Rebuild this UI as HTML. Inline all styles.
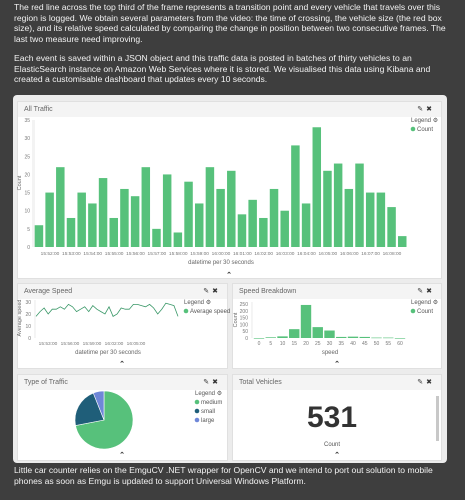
<!DOCTYPE html>
<html><head><meta charset="utf-8"><style>
body{margin:0;width:465px;height:500px;background:#3e3e3e;font-family:"Liberation Sans",sans-serif;overflow:hidden;position:relative}
.t{position:absolute;left:14px;color:#f2f2f2;font-size:8.6px;line-height:10.6px;width:440px}
#dash{position:absolute;left:13px;top:95px;width:434px;height:368px;background:#ececec;border-radius:4px}
.panel{position:absolute;background:#fff;border:1px solid #e0e0e0}
.hdr{height:15px;background:#f4f4f4;font-size:7px;color:#666;line-height:15px;padding-left:6px;position:relative}
.ic{position:absolute;right:6px;top:0;font-size:7px;color:#333;letter-spacing:3px}
svg text{font-family:"Liberation Sans",sans-serif}
</style></head><body>
<div class="t" style="top:2px">The red line across the top third of the frame represents a transition point and every vehicle that travels over this region is logged. We obtain several parameters from the video: the time of crossing, the vehicle size (the red box size), and its relative speed calculated by comparing the change in position between two consecutive frames. The last two measure need improving.</div>
<div class="t" style="top:53px">Each event is saved within a JSON object and this traffic data is posted in batches of thirty vehicles to an ElasticSearch instance on Amazon Web Services where it is stored. We visualised this data using Kibana and created a customisable dashboard that updates every 10 seconds.</div>
<div class="t" style="top:465px">Little car counter relies on the EmguCV .NET wrapper for OpenCV and we intend to port out solution to mobile phones as soon as Emgu is updated to support Universal Windows Platform.</div>

<div id="dash">
 <div class="panel" style="left:4px;top:6px;width:423px;height:176px">
  <div class="hdr">All Traffic<span class="ic">✎✖</span></div>
 </div>
 <div class="panel" style="left:4px;top:188px;width:209px;height:84px">
  <div class="hdr">Average Speed<span class="ic">✎✖</span></div>
 </div>
 <div class="panel" style="left:219px;top:188px;width:208px;height:84px">
  <div class="hdr">Speed Breakdown<span class="ic">✎✖</span></div>
 </div>
 <div class="panel" style="left:4px;top:279px;width:209px;height:85px">
  <div class="hdr">Type of Traffic<span class="ic">✎✖</span></div>
 </div>
 <div class="panel" style="left:219px;top:279px;width:208px;height:85px">
  <div class="hdr">Total Vehicles<span class="ic">✎✖</span></div>
 </div>
</div>
<svg id="s" width="465" height="500" style="position:absolute;left:0;top:0"></svg>
<script>
const trafficCounts=[6,15,22,8,15,12,19,8,16,14,22,5,20,4,18,12,22,16,21,9,13,8,16,10,28,12,33,21,23,16,23,15,15,11,3];
const trafficTicks=["15:52:00","15:53:00","15:54:00","15:55:00","15:56:00","15:57:00","15:58:00","15:59:00","16:00:00","16:01:00","16:02:00","16:03:00","16:04:00","16:05:00","16:06:00","16:07:00","16:08:00"];
const trafficYTicks=[0,5,10,15,20,25,30,35];
const avgSpeed=[18,22,25,20,24,24,26,24,28,26,22,24,26,22,27,24,22,20,26,18,20,25,24,24,28,28,27,26,28,25,20,24,29,28,27,18];
const avgTicks=["15:53:00","15:56:00","15:59:00","16:02:00","16:05:00"];
const avgYTicks=[0,10,20,30];
const speedBins=[0,5,10,15,20,25,30,35,40,45,50,55,60];
const speedCounts=[0,5,12,65,243,80,55,8,10,8,3,3,0];
const speedYTicks=[0,50,100,150,200,250];
const typeLabels=["medium","small","large"];
const typeCounts=[382,117,32];
const typeColors=["#57c17b","#1f5e79","#6f87d8"];
const totalVehicles=531;

const S=document.getElementById('s');const NS="http://www.w3.org/2000/svg";
function mk(tag,a,txt){const e=document.createElementNS(NS,tag);for(const k in a)e.setAttribute(k,a[k]);if(txt!==undefined)e.textContent=txt;S.appendChild(e);return e;}
const G="#57c17b",TC="#777";
function legend(x,y,items){
 let e=mk('text',{x:x,y:y,'font-size':6,fill:'#555'},'Legend ⚙');
 
 items.forEach((it,i)=>{
  let c=mk('circle',{cx:x+2,cy:y+7+i*9,r:2.3,fill:it[1]});
  
  let t=mk('text',{x:x+6,y:y+9.2+i*9,'font-size':6,fill:'#555'},it[0]);
  
 });
}
function chev(x,y){let e=mk('text',{x:x,y:y,'font-size':7,'text-anchor':'middle',fill:'#333','font-weight':'bold'},'⌃');}

// All traffic
(function(){
 const x0=34,x1=408,y0=247,y1=120,max=35;
 const bw=(x1-x0)/trafficCounts.length;
 const ys=v=>y0-(v/max)*(y0-y1);
 mk('rect',{x:x0-2,y:y1,width:3,height:y0-y1,fill:'#f3f3f3'});
 trafficYTicks.forEach(v=>{let t=mk('text',{x:x0-4,y:ys(v)+2,'font-size':5,fill:TC,'text-anchor':'end'},v);});
 trafficCounts.forEach((v,i)=>{let r=mk('rect',{x:x0+i*bw+0.7,y:ys(v),width:bw-2.2,height:y0-ys(v),fill:G});});
 trafficTicks.forEach((l,i)=>{let t=mk('text',{x:x0+(2*i+1.5)*bw,y:255,'font-size':4.8,fill:TC,'text-anchor':'middle'},l);});
 let xt=mk('text',{x:221,y:264,'font-size':6,fill:'#666','text-anchor':'middle'},'datetime per 30 seconds');
 let yt=mk('text',{x:0,y:0,'font-size':5.5,fill:'#666','text-anchor':'middle',transform:'translate(21,183) rotate(-90)'},'Count');
 legend(411,122,[["Count",G]]);
 chev(229,277);
})();
// Average speed
(function(){
 const x0=36,x1=178,y0=338,y1=302,max=30;
 const ys=v=>y0-(v/max)*(y0-y1);
 const xs=i=>x0+i*(x1-x0)/(avgSpeed.length-1);
 mk('line',{x1:x0-1,y1:y1-2,x2:x0-1,y2:y0,stroke:'#ddd','stroke-width':0.6});
 avgYTicks.forEach(v=>{let t=mk('text',{x:x0-5,y:ys(v)+2,'font-size':5,fill:TC,'text-anchor':'end'},v);});
 let p=mk('polyline',{points:avgSpeed.map((v,i)=>xs(i)+','+ys(v)).join(' '),fill:'none',stroke:'#3a9868','stroke-width':0.8});
 
 avgTicks.forEach((l,i)=>{let t=mk('text',{x:48+i*22,y:345,'font-size':4.8,fill:TC,'text-anchor':'middle'},l);});
 let xt=mk('text',{x:108,y:354,'font-size':6,fill:'#666','text-anchor':'middle'},'datetime per 30 seconds');
 let yt=mk('text',{x:0,y:0,'font-size':5.5,fill:'#666','text-anchor':'middle',transform:'translate(21,318) rotate(-90)'},'Average speed');
 legend(184,304,[["Average speed",G]]);
 chev(122,366);
})();
// Speed breakdown
(function(){
 const x0=259,step=(400-259)/12,y0=338,y1=304,max=250;
 const ys=v=>y0-(v/max)*(y0-y1);
 mk('line',{x1:252,y1:y1-2,x2:252,y2:y0,stroke:'#ddd','stroke-width':0.6});
 speedYTicks.forEach(v=>{let t=mk('text',{x:248,y:ys(v)+2,'font-size':5,fill:TC,'text-anchor':'end'},v);});
 speedBins.forEach((b,i)=>{const cx=x0+i*step,v=speedCounts[i];
  let r=mk('rect',{x:cx-5.2,y:ys(v),width:10.4,height:Math.max(y0-ys(v),0.6),fill:G});
  let t=mk('text',{x:cx,y:345,'font-size':5,fill:TC,'text-anchor':'middle'},b);});
 let xt=mk('text',{x:330,y:354,'font-size':6,fill:'#666','text-anchor':'middle'},'speed');
 let yt=mk('text',{x:0,y:0,'font-size':5.5,fill:'#666','text-anchor':'middle',transform:'translate(237,320) rotate(-90)'},'Count');
 legend(411,304,[["Count",G]]);
 chev(337,366);
})();
// Pie
(function(){
 const cx=104,cy=420,r=29,tot=typeCounts.reduce((a,b)=>a+b,0);let a=-Math.PI/2;
 typeCounts.forEach((v,i)=>{const b=a+v/tot*2*Math.PI;
  const p=mk('path',{d:`M${cx},${cy}L${cx+r*Math.cos(a)},${cy+r*Math.sin(a)}A${r},${r} 0 ${b-a>Math.PI?1:0} 1 ${cx+r*Math.cos(b)},${cy+r*Math.sin(b)}Z`,fill:typeColors[i],stroke:'#fff','stroke-width':0.6});
  a=b;});
 legend(195,395,typeLabels.map((l,i)=>[l,typeColors[i]]));
 chev(122,457);
})();
// Total
(function(){
 let t=mk('text',{x:332,y:427,'font-size':30,'font-weight':'bold',fill:'#333','text-anchor':'middle'},totalVehicles);
 let c=mk('text',{x:332,y:446,'font-size':6,fill:'#555','text-anchor':'middle'},'Count');
 let sb=mk('rect',{x:436,y:396,width:3,height:45,fill:'#c8c8c8'});
 chev(337,457);
})();
</script>
</body></html>
